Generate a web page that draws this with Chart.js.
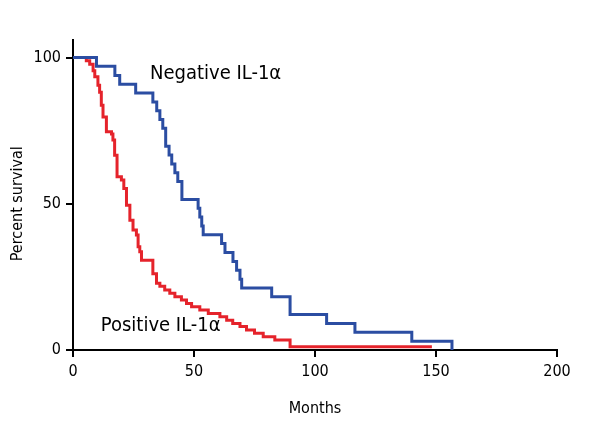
<!DOCTYPE html>
<html>
<head>
<meta charset="utf-8">
<script src="https://cdn.jsdelivr.net/npm/chart.js@4/dist/chart.umd.min.js"></script>
<style>
  html, body { margin: 0; padding: 0; background: #fff; }
  #wrap { width: 600px; height: 440px; }
</style>
</head>
<body>
<div id="wrap"><canvas id="km"></canvas></div>
<script>
// Kaplan-Meier steps (months, percent survival after the step)
const negMonths = [0, 9.7, 17.3, 19.3, 25.9, 33, 34.6, 35.9, 37.1, 38.3, 39.7, 40.8, 42.1, 43.3, 45, 51.7, 52.4, 53.2, 53.8, 61.4,
                   62.8, 66.1, 67.6, 69, 69.7, 82.1, 89.7, 104.8, 116.5, 140, 156.6];
const negSurvival = [100, 97, 93.9, 90.9, 87.9, 84.8, 81.8, 78.8, 75.8, 69.7, 66.7, 63.6, 60.6, 57.6, 51.5, 48.5, 45.5, 42.4, 39.4, 36.4,
                     33.3, 30.3, 27.3, 24.2, 21.2, 18.2, 12.1, 9.1, 6.1, 3.0, 0];

const posMonths = [0, 5.5, 6.9, 8.3, 9, 10.3, 11, 11.7, 12.4, 13.8, 15.9, 16.5, 17.2, 18.2, 20, 21, 22.1, 23.5, 24.8, 26.2,
                   26.9, 27.6, 28.3, 33, 34.5, 35.9, 37.9, 40, 42.1, 44.8, 46.9, 49, 52.4, 55.9, 60.7, 63.5, 66, 69, 71.7, 75,
                   78.6, 83.4, 89.7, 148.3];
const posSurvival = [100, 98.9, 97.7, 95.5, 93.4, 90.5, 88.1, 83.7, 79.7, 74.6, 73.9, 71.8, 66.6, 59.2, 58.1, 55.2, 49.5, 44.4, 41, 39.3,
                     35.3, 33.6, 30.7, 26.1, 22.8, 21.8, 20.5, 19.4, 18.2, 17.1, 15.9, 14.8, 13.7, 12.5, 11.4, 10.2, 9.1, 8.0, 6.8, 5.7,
                     4.5, 3.4, 1.1, 1.1];

const xTicks = [0, 50, 100, 150, 200];
const yTicks = [0, 50, 100];

const FONT = "'Liberation Sans Narrow', 'DejaVu Sans Condensed', 'Roboto Condensed', sans-serif";

function toPoints(xs, ys) {
    return xs.map((x, i) => ({ x: x, y: ys[i] }));
}

// curve labels + y title centred on the 0-100 range
const curveLabels = {
    id: 'curveLabels',
    afterDatasetsDraw(chart) {
        const { ctx, scales: { x, y } } = chart;
        ctx.save();
        ctx.fillStyle = '#000';
        ctx.font = '20px ' + FONT;
        ctx.textAlign = 'left';
        ctx.textBaseline = 'middle';
        ctx.fillText('Negative IL-1α', x.getPixelForValue(31.8), y.getPixelForValue(94.6));
        ctx.fillText('Positive IL-1α', x.getPixelForValue(11.5), y.getPixelForValue(8.2));

        ctx.font = '16px ' + FONT;
        ctx.textAlign = 'center';
        ctx.translate(18, y.getPixelForValue(50));
        ctx.rotate(-Math.PI / 2);
        ctx.fillText('Percent survival', 0, 0);
        ctx.restore();
    }
};

Chart.defaults.font.family = FONT;
Chart.defaults.color = '#000';

new Chart(document.getElementById('km'), {
    type: 'line',
    data: {
        datasets: [{
            label: 'Negative IL-1α',
            data: toPoints(negMonths, negSurvival),
            borderColor: '#2B4DA2',
            borderWidth: 3,
            stepped: 'before',
            pointRadius: 0,
            fill: false,
            clip: 6
        }, {
            label: 'Positive IL-1α',
            data: toPoints(posMonths, posSurvival),
            borderColor: '#E5232B',
            borderWidth: 3,
            stepped: 'before',
            pointRadius: 0,
            fill: false,
            clip: 6
        }]
    },
    options: {
        responsive: true,
        maintainAspectRatio: false,
        animation: false,
        layout: { padding: { top: 40, right: 43, left: 0, bottom: 0 } },
        plugins: {
            legend: { display: false },
            tooltip: { enabled: false }
        },
        scales: {
            x: {
                type: 'linear',
                min: 0,
                max: 200,
                afterBuildTicks: (s) => { s.ticks = xTicks.map(v => ({ value: v })); },
                afterFit: (s) => { s.height = 90; },
                border: { display: true, color: '#000', width: 2 },
                grid: { drawOnChartArea: false, drawTicks: true, tickLength: 7, color: '#000', lineWidth: 2 },
                ticks: { font: { size: 16 }, padding: 5, maxRotation: 0 },
                title: { display: true, text: 'Months', font: { size: 16 }, padding: { top: 0, bottom: 22 } }
            },
            y: {
                type: 'linear',
                min: 0,
                max: 106,
                afterBuildTicks: (s) => { s.ticks = yTicks.map(v => ({ value: v })); },
                afterFit: (s) => { s.width = 73; },
                border: { display: true, color: '#000', width: 2 },
                grid: { drawOnChartArea: false, drawTicks: true, tickLength: 7, color: '#000', lineWidth: 2 },
                ticks: { font: { size: 16 }, padding: 5 }
            }
        }
    },
    plugins: [curveLabels]
});
</script>
</body>
</html>
